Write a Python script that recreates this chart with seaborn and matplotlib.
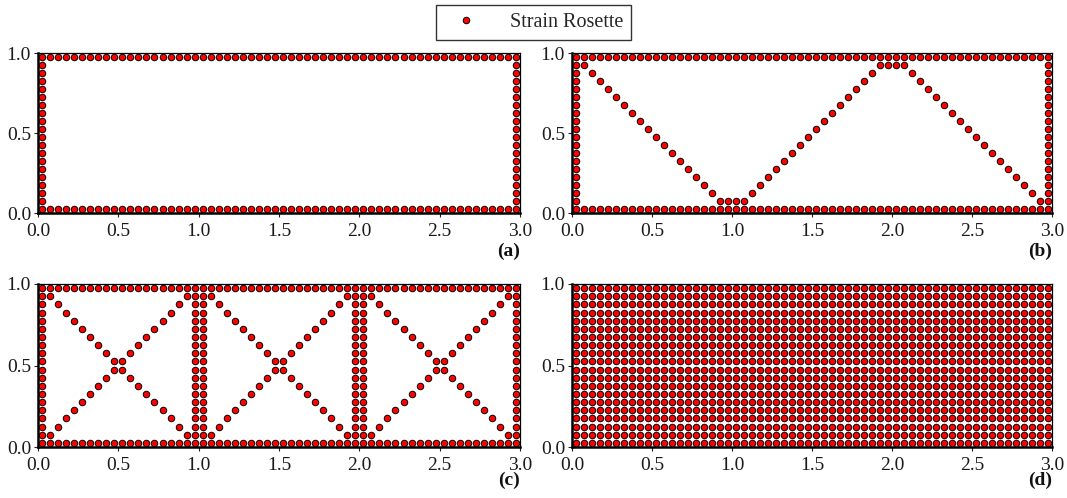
import numpy as np
import pandas as pd
import matplotlib
matplotlib.use("Agg")
import matplotlib.pyplot as plt
import seaborn as sns
from matplotlib.lines import Line2D

sns.set_theme(style="white")
plt.rcParams['font.family'] = ['Liberation Serif', 'DejaVu Serif']

# Grid of sensor cells (cell centres)
cell_size = 0.05
n_cols = 60
n_rows = 20
x_ticks = [0.0, 0.5, 1.0, 1.5, 2.0, 2.5, 3.0]
y_ticks = [0.0, 0.5, 1.0]
x_tick_labels = ["0.0", "0.5", "1.0", "1.5", "2.0", "2.5", "3.0"]
y_tick_labels = ["0.0", "0.5", "1.0"]
panel_labels = ["(a)", "(b)", "(c)", "(d)"]
legend_label = "Strain Rosette"


def perimeter():
    s = set()
    for c in range(n_cols):
        s.add((c, 0)); s.add((c, n_rows - 1))
    for r in range(n_rows):
        s.add((0, r)); s.add((n_cols - 1, r))
    return s


# (a) perimeter only
cells_a = perimeter()

# (b) perimeter + zig-zag (V) layout
cells_b = perimeter()
for c in range(1, 19):
    cells_b.add((c, 19 - c))
cells_b |= {(19, 1), (20, 1)}
for c in range(21, 39):
    cells_b.add((c, c - 20))
cells_b |= {(39, 18), (40, 18)}
for c in range(41, 59):
    cells_b.add((c, 59 - c))

# (c) perimeter + X-braces in each unit block + double vertical columns
cells_c = perimeter()
for k in range(3):
    for c in range(20):
        cells_c.add((20 * k + c, c))
        cells_c.add((20 * k + c, 19 - c))
for col in [19, 20, 39, 40]:
    for r in range(n_rows):
        cells_c.add((col, r))

# (d) full grid
cells_d = {(c, r) for c in range(n_cols) for r in range(n_rows)}


def to_df(cells):
    arr = np.array(sorted(cells), dtype=float)
    return pd.DataFrame({"x": (arr[:, 0] + 0.5) * cell_size,
                         "y": (arr[:, 1] + 0.5) * cell_size})


frames = [to_df(c) for c in [cells_a, cells_b, cells_c, cells_d]]

W, H = 1067, 498
fig = plt.figure(figsize=(W / 100, H / 100), dpi=100)
rects = [
    (38, 53, 520, 213),
    (572, 53, 1052, 213),
    (38, 284, 520, 447),
    (572, 284, 1052, 447),
]
label_offsets = [38, 38, 33, 33]

for df, (l, t, r, b), lab, off in zip(frames, rects, panel_labels, label_offsets):
    ax = fig.add_axes([l / W, 1 - b / H, (r - l) / W, (b - t) / H])
    sns.scatterplot(data=df, x="x", y="y", ax=ax, color="#ff0000",
                    edgecolor="black", linewidth=0.7, s=22, legend=False,
                    clip_on=False, zorder=3)
    ax.set_xlim(0, 3)
    ax.set_ylim(0, 1)
    ax.set_xticks(x_ticks)
    ax.set_xticklabels(x_tick_labels)
    ax.set_yticks(y_ticks)
    ax.set_yticklabels(y_tick_labels)
    ax.set_xlabel("")
    ax.set_ylabel("")
    ax.tick_params(axis="both", labelsize=14, colors="#222222", length=3,
                   width=0.8, direction="out", pad=2, bottom=True, left=True)
    ax.tick_params(axis="x", pad=4.5)
    ax.tick_params(labelcolor="#1a1a1a")
    for side in ["left", "bottom"]:
        ax.spines[side].set_linewidth(1.8)
        ax.spines[side].set_color("black")
    for side in ["top", "right"]:
        ax.spines[side].set_linewidth(0.9)
        ax.spines[side].set_color("black")
    ax.text(1.0, -off / (b - t), lab, transform=ax.transAxes, ha="right",
            va="center", fontsize=14, fontweight="bold", color="#111111")

handle = Line2D([], [], linestyle="none", marker="o", markersize=4.7,
                markerfacecolor="#ff0000", markeredgecolor="black",
                markeredgewidth=0.7)
leg = fig.legend([handle], [legend_label], loc="upper center",
                 bbox_to_anchor=(0.5, 0.99), frameon=True, fancybox=False,
                 fontsize=14.5, handlelength=2.2, handletextpad=1.1,
                 borderpad=0.4, borderaxespad=0)
leg.get_frame().set_edgecolor("black")
leg.get_frame().set_linewidth(1.0)

fig.savefig("out.png", dpi=100)
